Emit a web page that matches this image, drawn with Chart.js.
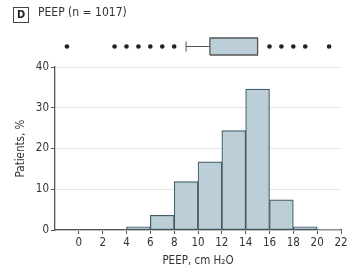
<!DOCTYPE html>
<html>
<head>
<meta charset="utf-8">
<script src="https://cdn.jsdelivr.net/npm/chart.js"></script>
<style>
  html, body { margin: 0; padding: 0; background: #fff; }
  #wrap { position: relative; width: 352px; height: 280px; }
  #panel {
    position: absolute; left: 13px; top: 7px; width: 14px; height: 14px;
    border: 1px solid #444; font: bold 11px 'DejaVu Sans Condensed', sans-serif;
    color: #222; text-align: center; line-height: 14px;
  }
  #title {
    position: absolute; left: 38px; top: 5px;
    font: 12px 'DejaVu Sans Condensed', 'Liberation Sans Narrow', sans-serif; color: #333;
  }
</style>
</head>
<body>
<div id="wrap">
  <canvas id="chart" width="352" height="280"></canvas>
  <div id="panel">D</div>
  <div id="title">PEEP (n = 1017)</div>
</div>
<script>
// histogram bins (left edge, cm H2O) and share of patients (%)
const binStarts = [4, 6, 8, 10, 12, 14, 16, 18, 20]
const percents = [0.8, 3.6, 11.9, 16.7, 24.4, 34.6, 7.4, 0.8, 0.2]
const binWidth = 2

// box plot summary
const whiskerLow = 9
const q1 = 11
const median = 13
const q3 = 15
const outliers = [-1, 3, 4, 5, 6, 7, 8, 16, 17, 18, 19, 21]

const xTicks = [0, 2, 4, 6, 8, 10, 12, 14, 16, 18, 20, 22]
const yTicks = [0, 10, 20, 30, 40]

const barFill = 'rgb(188, 207, 217)'
const barLine = 'rgb(66, 92, 102)'
const axisCol = '#555'
const font = { family: "'DejaVu Sans Condensed', 'Liberation Sans Narrow', sans-serif", size: 11.5 }

const histData = binStarts.map((s, i) => ({ x: s + binWidth / 2, y: percents[i] }))

const config = {
    data: {
        datasets: [{
            type: 'bar',
            data: histData,
            yAxisID: 'y',
            backgroundColor: barFill,
            borderColor: barLine,
            borderWidth: 1.2,
            borderSkipped: false,
            barPercentage: 1,
            categoryPercentage: 1,
            order: 2
        }, {
            // box
            type: 'line',
            data: [{ x: q1, y: -8.5 }, { x: q3, y: -8.5 }, { x: q3, y: 8.5 }, { x: q1, y: 8.5 }, { x: q1, y: -8.5 }],
            yAxisID: 'yBox',
            fill: 'shape',
            backgroundColor: barFill,
            borderColor: axisCol,
            borderWidth: 1.3,
            pointRadius: 0,
            tension: 0
        }, {
            // median
            type: 'line',
            data: [{ x: median, y: -8.5 }, { x: median, y: 8.5 }],
            yAxisID: 'yBox',
            borderColor: axisCol,
            borderWidth: 1.3,
            pointRadius: 0
        }, {
            // whisker
            type: 'line',
            data: [{ x: whiskerLow, y: 0 }, { x: q1, y: 0 }],
            yAxisID: 'yBox',
            borderColor: axisCol,
            borderWidth: 1,
            pointRadius: 0
        }, {
            // whisker cap
            type: 'line',
            data: [{ x: whiskerLow, y: -5 }, { x: whiskerLow, y: 5 }],
            yAxisID: 'yBox',
            borderColor: axisCol,
            borderWidth: 1,
            pointRadius: 0
        }, {
            type: 'scatter',
            data: outliers.map(v => ({ x: v, y: 0 })),
            yAxisID: 'yBox',
            pointRadius: 2.3,
            backgroundColor: '#222',
            borderWidth: 0
        }]
    },
    options: {
        responsive: false,
        animation: false,
        events: [],
        layout: { padding: { left: 0, right: 11, top: 32, bottom: 6 } },
        plugins: { legend: { display: false }, tooltip: { enabled: false } },
        scales: {
            x: {
                type: 'linear',
                offset: false,
                min: -2,
                max: 22,
                afterBuildTicks: s => { s.ticks = xTicks.map(v => ({ value: v })) },
                afterFit: s => { s.height = 44; s.paddingRight = 0; s.paddingLeft = 0 },
                border: { color: axisCol, width: 1.3 },
                grid: { offset: false, drawOnChartArea: false, drawTicks: true, tickLength: 4, tickColor: axisCol },
                ticks: { color: '#333', font: font, padding: 2, maxRotation: 0 },
                title: { display: true, text: 'PEEP, cm H\u2082O', color: '#333', font: font, padding: { top: 2, bottom: 6 } }
            },
            y: {
                type: 'linear',
                position: 'left',
                stack: 'main',
                stackWeight: 163,
                min: 0,
                max: 40,
                afterBuildTicks: s => { s.ticks = yTicks.map(v => ({ value: v })) },
                afterFit: s => { s.width = 55 },
                border: { color: axisCol, width: 1.3 },
                grid: { color: '#e4e4e4', lineWidth: 1, tickLength: 4, tickColor: axisCol },
                ticks: { color: '#333', font: font, padding: 2 },
                title: { display: true, text: 'Patients, %', color: '#333', font: font, padding: { top: 14, bottom: 0 } }
            },
            yBox: {
                type: 'linear',
                position: 'left',
                stack: 'main',
                stackWeight: 35,
                min: -20.5,
                max: 14.5,
                display: false
            }
        }
    }
}

new Chart(document.getElementById('chart'), config)
</script>
</body>
</html>
